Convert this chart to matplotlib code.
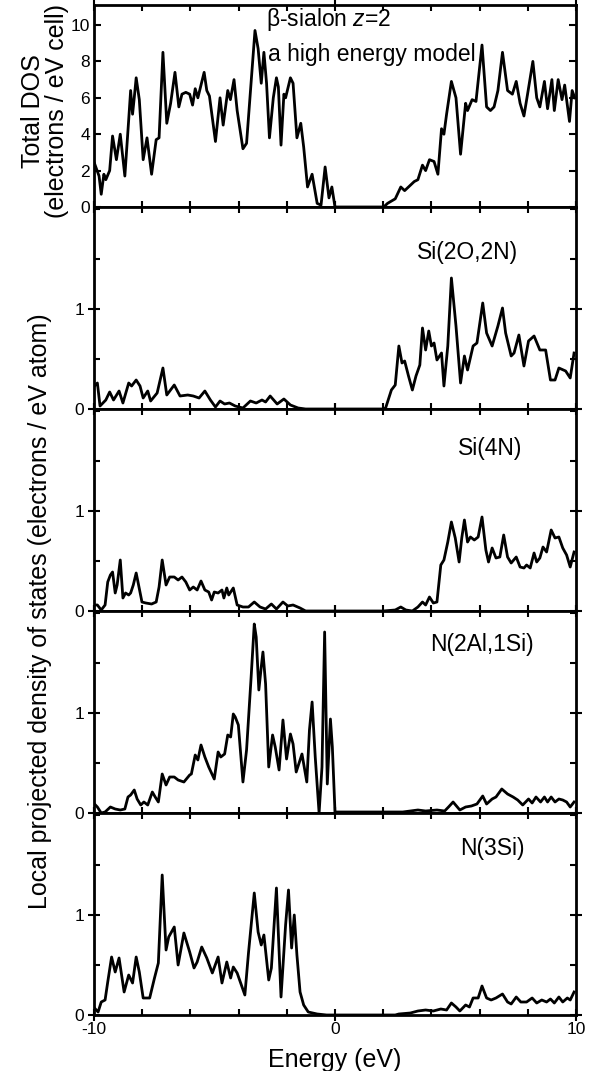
import matplotlib.pyplot as plt
from matplotlib.ticker import MultipleLocator, FixedLocator

plt.rcParams['font.family'] = ['Liberation Sans', 'DejaVu Sans']
plt.rcParams['mathtext.fontset'] = 'custom'
plt.rcParams['mathtext.rm'] = 'Liberation Sans'
plt.rcParams['mathtext.it'] = 'Liberation Sans:italic'
plt.rcParams['axes.unicode_minus'] = False

# (energy in eV, DOS)
total_dos = [(-9.98, 2.4), (-9.79, 1.7), (-9.70, 0.7), (-9.59, 1.8), (-9.51, 1.5), (-9.35, 2.0),
             (-9.23, 3.9), (-9.07, 2.6), (-8.91, 4.0), (-8.72, 1.7), (-8.56, 4.8), (-8.48, 6.4),
             (-8.40, 5.1), (-8.33, 6.0), (-8.25, 7.1), (-8.12, 5.9), (-7.96, 2.6), (-7.80, 3.8),
             (-7.61, 1.8), (-7.42, 3.7), (-7.30, 3.8), (-7.14, 8.5), (-6.98, 4.6), (-6.82, 5.7),
             (-6.64, 7.4), (-6.48, 5.5), (-6.35, 6.2), (-6.19, 6.3), (-6.03, 6.2), (-5.91, 5.6),
             (-5.80, 6.5), (-5.69, 6.0), (-5.43, 7.4), (-5.32, 6.4), (-5.21, 6.1), (-4.96, 3.6),
             (-4.77, 6.0), (-4.64, 4.5), (-4.45, 6.4), (-4.34, 5.9), (-4.19, 7.0), (-4.06, 5.3),
             (-3.82, 3.2), (-3.67, 3.5), (-3.32, 9.7), (-3.19, 8.7), (-3.06, 6.8), (-2.95, 8.5),
             (-2.84, 6.8), (-2.72, 3.8), (-2.56, 6.0), (-2.43, 7.1), (-2.35, 6.6), (-2.24, 3.4),
             (-2.12, 6.2), (-2.05, 6.0), (-1.85, 7.1), (-1.74, 6.8), (-1.58, 3.8), (-1.42, 4.6),
             (-1.30, 3.3), (-1.14, 1.1), (-0.95, 1.8), (-0.74, 0.2), (-0.58, 0.1), (-0.41, 2.2),
             (-0.25, 0.5), (-0.13, 1.1), (0.00, 0.0), (2.02, 0.0), (2.18, 0.2), (2.50, 0.45),
             (2.73, 1.1), (2.89, 0.9), (3.05, 1.1), (3.29, 1.4), (3.44, 1.5), (3.63, 2.3),
             (3.76, 2.0), (3.92, 2.6), (4.11, 2.5), (4.27, 1.8), (4.42, 4.3), (4.52, 4.0),
             (4.63, 5.1), (4.83, 6.9), (5.02, 6.0), (5.21, 2.9), (5.42, 5.7), (5.50, 5.3),
             (5.69, 5.9), (5.85, 5.8), (6.10, 8.9), (6.29, 5.5), (6.45, 5.3), (6.60, 5.5),
             (6.76, 6.4), (6.95, 8.5), (7.16, 6.4), (7.36, 6.2), (7.52, 6.9), (7.68, 5.7),
             (7.84, 5.0), (7.99, 6.2), (8.21, 8.0), (8.37, 6.0), (8.50, 5.5), (8.69, 6.9),
             (8.82, 5.4), (9.00, 7.0), (9.10, 5.3), (9.26, 7.0), (9.42, 5.9), (9.53, 6.7),
             (9.73, 4.7), (9.84, 6.4), (9.95, 6.0)]

si_2o2n = [(-9.98, 0.23), (-9.86, 0.26), (-9.75, 0.03), (-9.51, 0.09), (-9.35, 0.17), (-9.19, 0.09),
           (-8.96, 0.18), (-8.80, 0.06), (-8.56, 0.26), (-8.44, 0.23), (-8.25, 0.29), (-8.09, 0.23),
           (-7.96, 0.11), (-7.77, 0.18), (-7.65, 0.08), (-7.38, 0.16), (-7.14, 0.41), (-6.98, 0.14),
           (-6.67, 0.24), (-6.43, 0.13), (-6.11, 0.14), (-5.88, 0.13), (-5.64, 0.11), (-5.40, 0.18),
           (-5.17, 0.09), (-4.96, 0.02), (-4.77, 0.08), (-4.58, 0.05), (-4.38, 0.06), (-4.14, 0.03),
           (-3.82, 0.01), (-3.51, 0.08), (-3.27, 0.06), (-3.03, 0.09), (-2.88, 0.07), (-2.69, 0.13),
           (-2.40, 0.05), (-2.12, 0.10), (-1.85, 0.04), (-1.53, 0.01), (-1.22, 0.0), (2.0, 0.0),
           (2.10, 0.01), (2.34, 0.19), (2.50, 0.24), (2.65, 0.63), (2.78, 0.46), (2.89, 0.48),
           (3.05, 0.33), (3.21, 0.19), (3.36, 0.33), (3.52, 0.44), (3.63, 0.81), (3.76, 0.59),
           (3.89, 0.78), (4.00, 0.63), (4.11, 0.66), (4.23, 0.49), (4.42, 0.56), (4.52, 0.23),
           (4.68, 0.63), (4.83, 1.31), (5.02, 0.83), (5.21, 0.26), (5.37, 0.53), (5.50, 0.39),
           (5.73, 0.63), (5.89, 0.66), (6.13, 1.06), (6.29, 0.76), (6.52, 0.63), (6.76, 0.83),
           (6.95, 1.01), (7.08, 0.76), (7.31, 0.53), (7.43, 0.56), (7.63, 0.74), (7.84, 0.43),
           (8.03, 0.68), (8.26, 0.73), (8.50, 0.59), (8.74, 0.59), (8.94, 0.29), (9.13, 0.29),
           (9.29, 0.41), (9.57, 0.38), (9.76, 0.31), (9.92, 0.56)]

si_4n = [(-9.98, 0.06), (-9.86, 0.06), (-9.70, 0.01), (-9.54, 0.06), (-9.43, 0.29), (-9.32, 0.36),
         (-9.23, 0.39), (-9.12, 0.18), (-9.04, 0.26), (-8.91, 0.51), (-8.80, 0.13), (-8.69, 0.18),
         (-8.56, 0.16), (-8.48, 0.18), (-8.37, 0.26), (-8.25, 0.38), (-8.15, 0.26), (-8.01, 0.09),
         (-7.85, 0.08), (-7.61, 0.07), (-7.42, 0.09), (-7.30, 0.24), (-7.17, 0.51), (-7.01, 0.26),
         (-6.86, 0.34), (-6.67, 0.34), (-6.51, 0.31), (-6.35, 0.34), (-6.19, 0.29), (-6.03, 0.21),
         (-5.88, 0.24), (-5.72, 0.21), (-5.56, 0.30), (-5.40, 0.21), (-5.24, 0.19), (-5.12, 0.11),
         (-5.01, 0.19), (-4.85, 0.18), (-4.69, 0.21), (-4.61, 0.13), (-4.49, 0.23), (-4.41, 0.16),
         (-4.22, 0.23), (-4.06, 0.06), (-3.82, 0.04), (-3.59, 0.04), (-3.35, 0.09), (-3.11, 0.04),
         (-2.88, 0.02), (-2.64, 0.07), (-2.43, 0.02), (-2.16, 0.09), (-1.96, 0.05), (-1.74, 0.06),
         (-1.45, 0.03), (-1.22, 0.0), (2.0, 0.0), (2.50, 0.01), (2.73, 0.04), (2.94, 0.01),
         (3.21, 0.0), (3.44, 0.04), (3.63, 0.09), (3.76, 0.06), (3.92, 0.14), (4.08, 0.08),
         (4.23, 0.09), (4.39, 0.46), (4.52, 0.51), (4.68, 0.69), (4.83, 0.89), (4.99, 0.73),
         (5.15, 0.49), (5.26, 0.73), (5.37, 0.91), (5.50, 0.69), (5.62, 0.74), (5.78, 0.71),
         (5.94, 0.74), (6.10, 0.94), (6.26, 0.61), (6.37, 0.49), (6.52, 0.63), (6.68, 0.53),
         (6.84, 0.54), (7.00, 0.76), (7.16, 0.54), (7.31, 0.48), (7.52, 0.54), (7.68, 0.44),
         (7.84, 0.43), (7.95, 0.46), (8.10, 0.43), (8.26, 0.58), (8.37, 0.49), (8.50, 0.53),
         (8.63, 0.64), (8.78, 0.59), (8.97, 0.81), (9.13, 0.73), (9.29, 0.74), (9.45, 0.63),
         (9.61, 0.56), (9.76, 0.44), (9.92, 0.59)]

n_2al1si = [(-9.98, 0.09), (-9.86, 0.06), (-9.70, 0.0), (-9.54, 0.01), (-9.32, 0.06), (-9.12, 0.04),
            (-8.91, 0.03), (-8.72, 0.04), (-8.59, 0.16), (-8.48, 0.18), (-8.33, 0.23), (-8.21, 0.14),
            (-8.06, 0.08), (-7.93, 0.11), (-7.77, 0.08), (-7.58, 0.21), (-7.46, 0.16), (-7.33, 0.11),
            (-7.17, 0.39), (-7.01, 0.28), (-6.86, 0.36), (-6.67, 0.36), (-6.51, 0.33), (-6.27, 0.31),
            (-6.03, 0.38), (-5.96, 0.39), (-5.80, 0.58), (-5.69, 0.53), (-5.56, 0.68), (-5.40, 0.56),
            (-5.24, 0.46), (-5.01, 0.34), (-4.85, 0.61), (-4.74, 0.56), (-4.58, 0.59), (-4.45, 0.78),
            (-4.33, 0.76), (-4.22, 0.99), (-4.14, 0.96), (-4.01, 0.88), (-3.82, 0.31), (-3.67, 0.63),
            (-3.48, 1.36), (-3.35, 1.89), (-3.27, 1.76), (-3.16, 1.23), (-3.06, 1.46), (-2.99, 1.61),
            (-2.88, 1.29), (-2.75, 0.46), (-2.59, 0.78), (-2.48, 0.66), (-2.32, 0.43), (-2.16, 0.93),
            (-2.01, 0.54), (-1.85, 0.79), (-1.74, 0.69), (-1.61, 0.41), (-1.37, 0.59), (-1.17, 0.31),
            (-1.06, 0.83), (-0.95, 1.11), (-0.82, 0.56), (-0.66, 0.0), (-0.54, 0.46), (-0.43, 1.81),
            (-0.32, 0.29), (-0.19, 0.94), (-0.11, 0.66), (0.0, 0.01), (2.02, 0.01), (2.81, 0.01),
            (3.44, 0.03), (3.76, 0.02), (4.23, 0.03), (4.55, 0.02), (4.71, 0.06), (4.90, 0.11),
            (5.18, 0.03), (5.42, 0.06), (5.66, 0.07), (5.89, 0.09), (6.13, 0.17), (6.29, 0.09),
            (6.52, 0.14), (6.68, 0.16), (6.92, 0.24), (7.16, 0.19), (7.39, 0.16), (7.58, 0.13),
            (7.79, 0.08), (8.03, 0.14), (8.18, 0.10), (8.34, 0.16), (8.53, 0.11), (8.69, 0.16),
            (8.82, 0.11), (8.97, 0.16), (9.13, 0.11), (9.29, 0.14), (9.45, 0.13), (9.61, 0.11),
            (9.76, 0.06), (9.92, 0.11)]

n_3si = [(-9.98, 0.07), (-9.83, 0.03), (-9.70, 0.13), (-9.54, 0.15), (-9.43, 0.33), (-9.27, 0.58),
         (-9.12, 0.43), (-8.96, 0.57), (-8.75, 0.23), (-8.56, 0.40), (-8.40, 0.32), (-8.25, 0.58),
         (-8.12, 0.43), (-7.96, 0.17), (-7.69, 0.17), (-7.49, 0.37), (-7.33, 0.52), (-7.17, 1.40),
         (-7.01, 0.65), (-6.90, 0.78), (-6.67, 0.88), (-6.51, 0.50), (-6.27, 0.82), (-6.03, 0.63),
         (-5.85, 0.47), (-5.72, 0.53), (-5.53, 0.68), (-5.32, 0.57), (-5.09, 0.42), (-4.85, 0.58),
         (-4.69, 0.32), (-4.49, 0.53), (-4.33, 0.37), (-4.22, 0.48), (-4.06, 0.42), (-3.74, 0.20),
         (-3.59, 0.62), (-3.35, 1.22), (-3.19, 0.83), (-3.06, 0.70), (-2.95, 0.80), (-2.75, 0.35),
         (-2.64, 0.47), (-2.43, 1.27), (-2.24, 0.18), (-2.05, 0.90), (-1.93, 1.25), (-1.80, 0.67),
         (-1.69, 1.00), (-1.58, 0.60), (-1.45, 0.23), (-1.30, 0.10), (-1.11, 0.03), (-0.74, 0.01),
         (-0.35, 0.0), (2.50, 0.0), (2.65, 0.01), (3.13, 0.02), (3.44, 0.04), (3.76, 0.05),
         (4.08, 0.04), (4.39, 0.06), (4.63, 0.05), (4.83, 0.12), (5.02, 0.08), (5.18, 0.04),
         (5.42, 0.10), (5.58, 0.08), (5.73, 0.17), (5.94, 0.17), (6.10, 0.29), (6.29, 0.17),
         (6.48, 0.15), (6.68, 0.17), (6.95, 0.21), (7.16, 0.13), (7.31, 0.11), (7.52, 0.18),
         (7.71, 0.13), (7.95, 0.13), (8.18, 0.17), (8.37, 0.12), (8.58, 0.15), (8.78, 0.13),
         (8.94, 0.16), (9.10, 0.12), (9.29, 0.18), (9.45, 0.13), (9.64, 0.17), (9.76, 0.15),
         (9.92, 0.23)]

panel_data = [total_dos, si_2o2n, si_4n, n_2al1si, n_3si]
site_labels = ['Si(2O,2N)', 'Si(4N)', 'N(2Al,1Si)', 'N(3Si)']
site_label_pos = [(5.5, 1.57), (6.45, 1.63), (6.1, 1.69), (6.55, 1.67)]

fig = plt.figure(figsize=(5.95, 10.71), dpi=100)
gs = fig.add_gridspec(5, 1, left=94/595, right=576/595, top=1 - 5/1071,
                      bottom=1 - 1015/1071, hspace=0)
axes = [fig.add_subplot(gs[i]) for i in range(5)]

for i, ax in enumerate(axes):
    e, d = zip(*panel_data[i])
    ax.plot(e, d, color='black', lw=2.0)
    ax.set_xlim(-10, 10)
    for s in ax.spines.values():
        s.set_linewidth(2.0)
    ax.xaxis.set_major_locator(FixedLocator([-10, 0, 10]))
    ax.xaxis.set_minor_locator(MultipleLocator(2))
    ax.tick_params(axis='x', which='major', direction='inout', length=8, width=1.5,
                   top=True, bottom=True, labelsize=12.5, pad=1)
    ax.tick_params(axis='x', which='minor', direction='in', length=4, width=1.5,
                   top=True, bottom=True)
    ax.tick_params(axis='y', which='both', direction='in', width=1.5,
                   left=True, right=True, labelsize=12.5, pad=3)
    ax.tick_params(axis='y', which='major', length=5)
    ax.tick_params(axis='y', which='minor', length=4)
    if i < 4:
        ax.tick_params(axis='x', labelbottom=False)
    if i == 0:
        ax.set_ylim(0, 11.1)
        ax.yaxis.set_major_locator(MultipleLocator(2))
    else:
        ax.set_ylim(0, 2.02)
        ax.yaxis.set_major_locator(FixedLocator([0, 1]))
        ax.yaxis.set_minor_locator(MultipleLocator(0.5))
        ax.tick_params(axis='y', which='major', direction='inout', length=8)
        x, y = site_label_pos[i - 1]
        ax.text(x, y, site_labels[i - 1], ha='center', va='center', fontsize=16.5)

axes[0].text(-2.88, 10.3, r'β-sialon $z$=2', ha='left', va='center', fontsize=16.5)
axes[0].text(-2.80, 8.4, 'a high energy model', ha='left', va='center', fontsize=16.5)

axes[4].set_xlabel('Energy (eV)', fontsize=18, labelpad=8)

fig.text(45/595, 1 - 111/1071, 'Total DOS\n(electrons / eV cell)', rotation=90,
         ha='center', va='center', fontsize=18, linespacing=1.05)
fig.text(40/595, 1 - 611/1071, 'Local projected density of states (electrons / eV atom)',
         rotation=90, ha='center', va='center', fontsize=18)

fig.savefig('out.png', dpi=100)
